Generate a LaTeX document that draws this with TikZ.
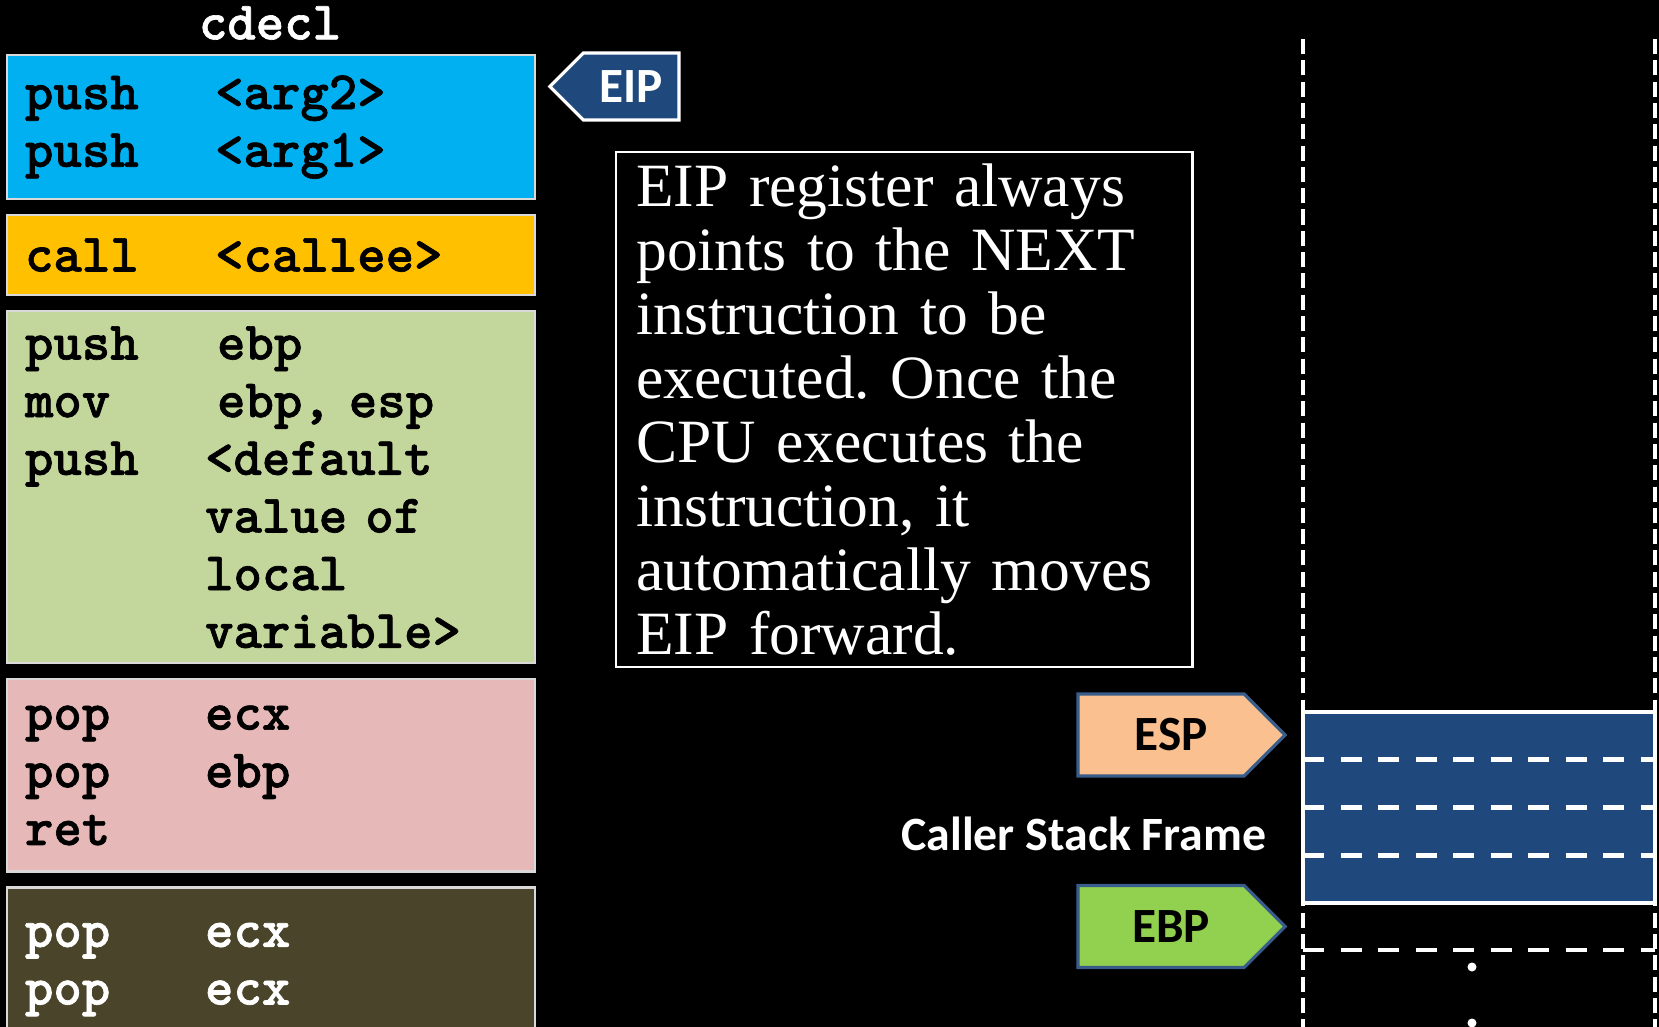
\documentclass[tikz,border=0pt]{standalone}
\usepackage{fontspec}
\setmainfont{Liberation Serif}
\newfontfamily\labelfont{Carlito}
\newfontfamily\asmfont{lmmonolt10-bold.otf}[FakeBold=1.2]
\usetikzlibrary{positioning,shapes.symbols,calc}
\definecolor{argblue}{HTML}{00B0F0}
\definecolor{callyellow}{HTML}{FFC000}
\definecolor{prolgreen}{HTML}{C3D69B}
\definecolor{epilpink}{HTML}{E6B9B8}
\definecolor{cleanolive}{HTML}{4A452A}
\definecolor{regnavy}{HTML}{1F497D}
\definecolor{tagedge}{HTML}{385D8A}
\definecolor{espfill}{HTML}{FAC090}
\definecolor{ebpfill}{HTML}{92D050}
\newcommand{\codefont}{\asmfont\fontsize{15.4}{16.4}\selectfont}
\newcommand{\asmline}[3][1.90cm]{\makebox[#1][l]{#2}#3}
\tikzset
{
  codebox/.style  = {rectangle, draw=white!85!black, line width=0.6pt, outer sep=0pt, minimum width=5.28cm, text width=4.92cm, inner xsep=0.18cm, align=left, font=\codefont},
  regtag/.style   = {signal, draw=tagedge, line width=0.9pt, outer sep=0pt, inner sep=0pt, minimum width=2.07cm, minimum height=0.82cm, signal pointer angle=90, font=\labelfont\bfseries\fontsize{14}{16}\selectfont},
  slotline/.style = {white, line width=1.3pt, dash pattern=on 0.21cm off 0.165cm},
  edgeline/.style = {white, line width=1.2pt, dash pattern=on 0.15cm off 0.063cm}
}
\begin{document}
\begin{tikzpicture}[x=0.01cm, y=-0.01cm]
  \useasboundingbox (0,0) rectangle (1659,1027);
  \fill [black] (0,0) rectangle (1659,1027);
  \clip (0,0) rectangle (1659,1027);

  \node [text=white, font=\codefont] (conv) at (270,23) {cdecl};

  \node [codebox, fill=argblue, minimum height=1.44cm, anchor=north west] (args) at (7,55)
    {\asmline{push}{<arg2>}\\\asmline{push}{<arg1>}};
  \node [codebox, fill=callyellow, minimum height=0.80cm, below=0.16cm of args] (call)
    {\asmline{call}{<callee>}};
  \node [codebox, fill=prolgreen, minimum height=3.52cm, below=0.16cm of call] (prologue)
    {\asmline[1.92cm]{push}{ebp}\\\asmline[1.92cm]{mov}{ebp, esp}\\\asmline[1.80cm]{push}{<default}\\
     \asmline[1.80cm]{}{value of}\\\asmline[1.80cm]{}{local}\\\asmline[1.80cm]{}{variable>}};
  \node [codebox, fill=epilpink, minimum height=1.92cm, below=0.16cm of prologue] (epilogue)
    {\asmline[1.80cm]{pop}{ecx}\\\asmline[1.80cm]{pop}{ebp}\\ret};
  \node [codebox, fill=cleanolive, text=white, minimum height=1.64cm, below=0.16cm of epilogue] (cleanup)
    {\asmline[1.80cm]{pop}{ecx}\\\asmline[1.80cm]{pop}{ecx}};

  \node [regtag, signal to=west, fill=regnavy, draw=white, text=white, minimum width=1.29cm, minimum height=0.67cm, anchor=east] (eip) at (679,86.5) {EIP\hspace{0.15cm}};

  \node [draw=white, line width=0.7pt, text=white, minimum width=5.76cm, minimum height=5.12cm, text width=5.36cm, inner xsep=0.2cm, align=left, anchor=north west, font=\frenchspacing\fontsize{17.5}{18.2}\selectfont] (note) at (615,151)
    {EIP register always\\points to the NEXT\\instruction to be\\executed. Once the\\CPU executes the\\instruction, it\\automatically moves\\EIP forward.};

  \draw [edgeline] (1303,39) -- (1303,1027);
  \draw [edgeline] (1655,39) -- (1655,1027);
  \node [rectangle, fill=regnavy, draw=white, line width=1pt, outer sep=0pt, minimum width=3.52cm, minimum height=1.91cm, anchor=north west] (frame) at (1303,712) {};
  \foreach \f in {0.25,0.5,0.75}
    \draw [slotline] ($(frame.north west)!\f!(frame.south west)$) -- ($(frame.north east)!\f!(frame.south east)$);
  \draw [slotline] (1303,950) -- (1655,950);
  \fill [white] (1472,967) circle (0.045cm);
  \fill [white] (1472,1023) circle (0.045cm);

  \node [regtag, signal to=east, fill=espfill, anchor=west] (esp) at (1078,735) {\hspace{0.2cm}ESP};
  \node [regtag, signal to=east, fill=ebpfill, anchor=west] (ebp) at (1078,926.5) {\hspace{0.2cm}EBP};
  \node [text=white, anchor=east, inner sep=0pt, font=\labelfont\bfseries\fontsize{13.6}{16}\selectfont] (callerlbl) at (1267,834) {Caller Stack Frame};
\end{tikzpicture}
\end{document}
